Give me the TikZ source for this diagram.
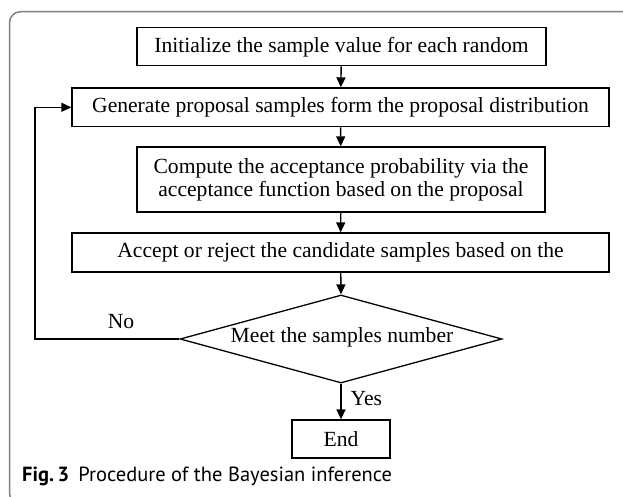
\documentclass[tikz,border=0pt]{standalone}
\usepackage{fontspec}
\setmainfont{Liberation Serif}
\newfontfamily\capfont{PT Sans}
\usetikzlibrary{shapes.geometric,arrows.meta}
\tikzset{
  every picture/.style={x=1pt,y=-1pt},
  procbox/.style={draw=black, line width=1.3pt, inner sep=0pt, align=center, font=\fontsize{21.6}{23}\selectfont},
  flow/.style={draw=black, line width=1.4pt, -{Triangle[length=10pt,width=9pt]}},
  lbl/.style={font=\fontsize{21.6}{23}\selectfont, inner sep=0pt},
}
\begin{document}
\begin{tikzpicture}
\useasboundingbox (0,0) rectangle (623,496);
\clip (0,0) rectangle (623,496);
\draw[gray, line width=1.5pt, rounded corners=11pt] (9.5,11.7) rectangle (660,504);

\node[procbox, minimum width=409pt, minimum height=38pt] (b1) at (341.5,46.7) {Initialize the sample value for each random};
\node[procbox, minimum width=537pt, minimum height=38.7pt] (b2) at (340.5,107.3) {Generate proposal samples form the proposal distribution};
\node[procbox, minimum width=408pt, minimum height=65pt] (b3) at (341,179.5) {Compute the acceptance probability via the\\acceptance function based on the proposal};
\node[procbox, minimum width=537pt, minimum height=39pt] (b4) at (340.5,252.5) {Accept or reject the candidate samples based on the};
\node[draw=black, line width=1.3pt, diamond, minimum width=322pt, minimum height=88pt, inner sep=0pt] (d) at (341,339) {};
\node[lbl] (dt) at (342,337) {Meet the samples number};
\node[procbox, minimum width=98pt, minimum height=38pt] (e) at (341,439) {End};

\coordinate (c1) at (35,339);
\coordinate (c2) at (35,107.3);

\draw[flow] (b1) -- (b2);
\draw[flow] (b2) -- (b3);
\draw[flow] (b3) -- (b4);
\draw[flow] (b4) -- (d.north);
\draw[flow] (d.south) -- (e) node[lbl, pos=0.42, right=9pt] (yes) {Yes};
\draw[flow] (d.west) -- (c1) -- (c2) -- (b2.west);
\node[lbl] (no) at (121,322) {No};

\node[anchor=base west, inner sep=0pt, font=\capfont\fontsize{20.5}{24}\selectfont] (cap) at (22,481) {\textbf{Fig.\,3}\hspace{0.45em}Procedure of the Bayesian inference};
\end{tikzpicture}
\end{document}
